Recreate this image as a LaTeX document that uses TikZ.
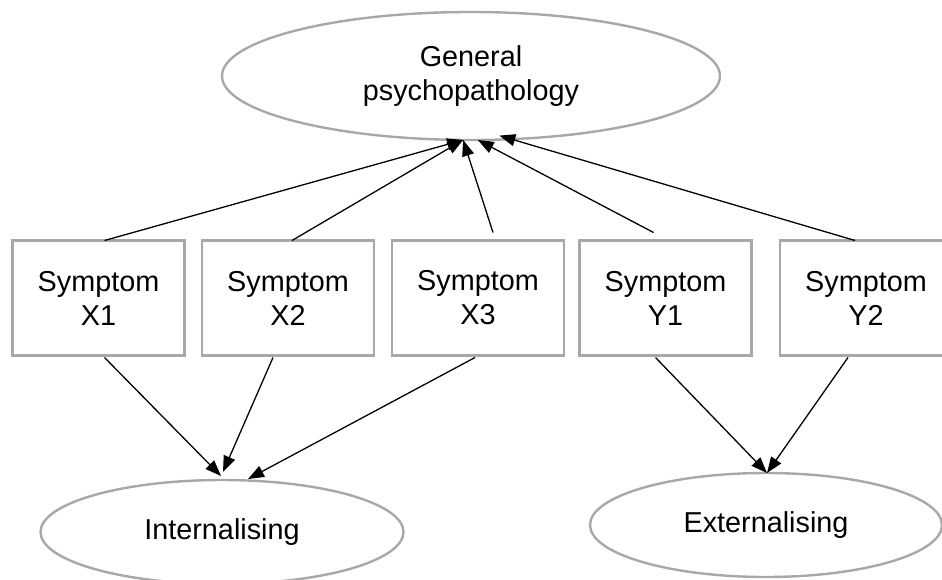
\documentclass[tikz,border=0pt]{standalone}
\usepackage{fontspec}
\setmainfont{Liberation Sans}
\usetikzlibrary{arrows.meta,shapes.geometric}
\definecolor{framegray}{RGB}{168,168,168}

\begin{document}
\begin{tikzpicture}[x=1pt,y=-1pt,>={Triangle[length=16pt,width=12pt]},
    font=\fontsize{28.8}{34}\selectfont,
    box/.style={draw=framegray,line width=2.6pt,minimum width=172pt,minimum height=115pt,
      inner sep=0pt,outer sep=0pt,align=center},
    latent/.style={draw=framegray,line width=2.4pt,ellipse,inner sep=0pt,outer sep=0pt,align=center},
    edge/.style={->,line width=1.3pt}]
  \useasboundingbox (0,0) rectangle (942,580);

  % latent factors
  \node[latent,minimum width=498pt,minimum height=128pt] (gp) at (471,76) {General\\psychopathology};
  \node[latent,minimum width=363pt,minimum height=104pt] (int) at (222,532) {Internalising};
  \node[latent,minimum width=352pt,minimum height=104pt] (ext) at (766,525) {Externalising};

  % observed symptoms
  \node[box] (x1) at (98.5,298) {Symptom\\X1};
  \node[box] (x2) at (288,298) {Symptom\\X2};
  \node[box] (x3) at (478,298) {Symptom\\X3};
  \node[box] (y1) at (665.5,298) {Symptom\\Y1};
  \node[box] (y2) at (866,298) {Symptom\\Y2};

  % loadings on the general factor
  \draw[edge] ([xshift=6pt]x1.north) -- (gp.263);
  \draw[edge] ([xshift=4pt]x2.north) -- (gp.263);
  \draw[edge] ([xshift=15pt,yshift=8pt]x3.north) -- (gp.263);
  \draw[edge] ([xshift=-12pt,yshift=8pt]y1.north) -- (gp.276);
  \draw[edge] ([xshift=-11pt]y2.north) -- ([yshift=4pt]gp.294);

  % loadings on the specific factors
  \draw[edge] ([xshift=6pt,yshift=-2pt]x1.south) -- ([xshift=-1pt,yshift=4pt]int.north);
  \draw[edge] ([xshift=-15pt,yshift=-2pt]x2.south) -- ([xshift=1pt,yshift=8pt]int.north);
  \draw[edge] ([xshift=-3pt,yshift=-2pt]x3.south) -- ([xshift=26pt,yshift=1pt]int.north);
  \draw[edge] ([xshift=-10pt,yshift=-2pt]y1.south) -- ([xshift=1pt]ext.north);
  \draw[edge] ([xshift=-18pt,yshift=-2pt]y2.south) -- ([xshift=1pt]ext.north);
\end{tikzpicture}
\end{document}
